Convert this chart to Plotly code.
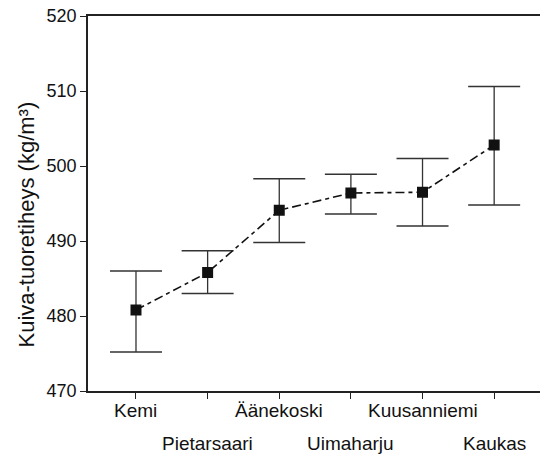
import plotly.graph_objects as go

sites = ["Kemi", "Pietarsaari", "Äänekoski", "Uimaharju", "Kuusanniemi", "Kaukas"]
means = [480.8, 485.8, 494.1, 496.4, 496.5, 502.8]
upper = [486.0, 488.7, 498.3, 498.9, 501.0, 510.6]
lower = [475.2, 483.0, 489.8, 493.6, 492.0, 494.8]

err_plus = [u - m for u, m in zip(upper, means)]
err_minus = [m - l for m, l in zip(means, lower)]
xs = list(range(len(sites)))

fig = go.Figure()
fig.add_trace(go.Scatter(
    x=xs, y=means, mode="lines+markers",
    line=dict(color="#111111", width=1.6, dash="9px,4px,4px,4px"),
    marker=dict(symbol="square", size=11, color="#111111"),
    error_y=dict(type="data", symmetric=False, array=err_plus, arrayminus=err_minus,
                 color="#333333", thickness=1.3, width=26),
    showlegend=False,
))

font = "Liberation Sans, Arial, sans-serif"
for i, s in enumerate(sites):
    fig.add_annotation(x=i, y=0, xref="x", yref="paper", text=s, showarrow=False,
                       yanchor="middle", yshift=-19 if i % 2 == 0 else -52,
                       font=dict(family=font, size=19, color="#111111"))

fig.add_annotation(x=0, y=0.5, xref="paper", yref="paper", xanchor="center",
                   text="Kuiva-tuoretiheys (kg/m³)", textangle=-90, showarrow=False,
                   xshift=-62, yshift=-21,
                   font=dict(family=font, size=22, color="#111111"))

fig.update_layout(
    width=540, height=454,
    margin=dict(l=88, r=0, t=16, b=63),
    paper_bgcolor="white", plot_bgcolor="white",
    font=dict(family=font, size=18, color="#111111"),
    xaxis=dict(range=[-0.67, 5.64], tickvals=xs, ticktext=[""] * len(xs),
               showgrid=False, zeroline=False, showline=True, mirror=True,
               linecolor="#222222", linewidth=1.5, ticks="outside", ticklen=6,
               tickcolor="#222222", tickwidth=1.2),
    yaxis=dict(range=[470, 520], dtick=10, showgrid=False, zeroline=False,
               showline=True, linecolor="#222222", linewidth=1.5,
               ticks="outside", ticklen=6, tickcolor="#222222", tickwidth=1.2,
               tickfont=dict(size=18)),
)

fig.write_html("out.html")
